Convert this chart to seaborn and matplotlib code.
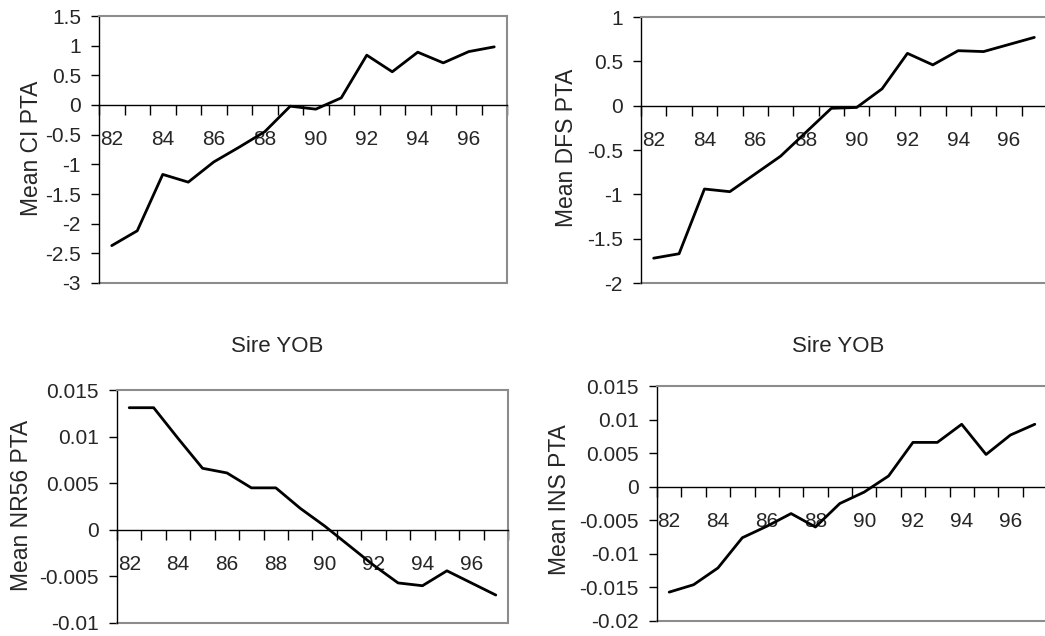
import pandas as pd
import matplotlib.pyplot as plt
from matplotlib.ticker import FixedLocator, NullFormatter
import seaborn as sns

sns.set_style('white')
plt.rcParams['font.family'] = ['Liberation Sans', 'DejaVu Sans']

years = list(range(82, 98))
year_labels = [str(y) for y in range(82, 98, 2)]

ci_pta = [-2.37, -2.12, -1.17, -1.30, -0.96, -0.71, -0.45, -0.02,
          -0.07, 0.12, 0.84, 0.56, 0.89, 0.71, 0.90, 0.98]
dfs_pta = [-1.72, -1.67, -0.94, -0.97, -0.77, -0.57, -0.30, -0.03,
           -0.02, 0.19, 0.59, 0.46, 0.62, 0.61, 0.69, 0.77]
nr56_pta = [0.0131, 0.0131, 0.0098, 0.0066, 0.0061, 0.0045, 0.0045, 0.0023,
            0.0004, -0.0017, -0.0038, -0.0057, -0.0060, -0.0044, -0.0057, -0.0070]
ins_pta = [-0.0157, -0.0146, -0.0121, -0.0076, -0.0059, -0.0040, -0.0060, -0.0025,
           -0.0008, 0.0016, 0.0066, 0.0066, 0.0093, 0.0048, 0.0077, 0.0093]

ci_ticks = [-3, -2.5, -2, -1.5, -1, -0.5, 0, 0.5, 1, 1.5]
dfs_ticks = [-2, -1.5, -1, -0.5, 0, 0.5, 1]
nr56_ticks = [-0.01, -0.005, 0, 0.005, 0.01, 0.015]
ins_ticks = [-0.02, -0.015, -0.01, -0.005, 0, 0.005, 0.01, 0.015]


def fmt(v):
    s = ('%.3f' % v).rstrip('0').rstrip('.')
    return '0' if s in ('-0', '') else s


def panel(fig, rect, values, yticks, ylabel, ylab_xy, xlab_xy=None):
    ax = fig.add_axes(rect)
    df = pd.DataFrame({'year': years, 'pta': values})
    sns.lineplot(data=df, x='year', y='pta', color='black', lw=2, ax=ax)
    ax.set_xlim(81.5, 97.5)
    ax.set_ylim(yticks[0], yticks[-1])
    ax.set_yticks(yticks)
    ax.set_yticklabels([fmt(t) for t in yticks])

    # category boundaries carry tick marks, every second year gets a label
    ax.xaxis.set_major_locator(FixedLocator([y + 0.5 for y in range(81, 98)]))
    ax.xaxis.set_major_formatter(NullFormatter())
    ax.xaxis.set_minor_locator(FixedLocator(list(range(82, 98, 2))))
    ax.set_xticklabels(year_labels, minor=True)
    ax.tick_params(axis='x', which='major', direction='out', length=7,
                   width=1, color='black', bottom=True)
    ax.tick_params(axis='x', which='minor', length=0, pad=18, labelsize=15,
                   bottom=True)
    ax.tick_params(axis='y', direction='out', length=6, width=1,
                   color='black', pad=7, labelsize=15, left=True)

    ax.spines['bottom'].set_position(('data', 0))
    ax.spines['bottom'].set_color('black')
    ax.spines['bottom'].set_linewidth(1)
    ax.spines['left'].set_color('black')
    ax.spines['left'].set_linewidth(1)
    for s in ('top', 'right'):
        ax.spines[s].set_color('#8c8c8c')
        ax.spines[s].set_linewidth(1.5)
    ax.plot([0, 1], [0, 0], transform=ax.transAxes, color='#8c8c8c',
            lw=1.5, clip_on=False)

    ax.set_ylabel(ylabel, fontsize=16.5)
    ax.yaxis.label.set_va('center')
    ax.yaxis.set_label_coords(*ylab_xy)
    if xlab_xy is not None:
        ax.set_xlabel('Sire YOB', fontsize=16)
        ax.xaxis.label.set_va('center')
        ax.xaxis.set_label_coords(*xlab_xy)
    else:
        ax.set_xlabel('')
    return ax


fig = plt.figure(figsize=(10.45, 6.36), dpi=100)
W, H = 1045, 636


def rect(l, r, t, b):
    return [l / W, (H - b) / H, (r - l) / W, (b - t) / H]


def coords(r, x, y):
    l, bt, w, h = r
    return ((x / W - l) / w, ((H - y) / H - bt) / h)


r1 = rect(99, 507, 16, 283)
r2 = rect(641, 1047, 17, 283)
r3 = rect(117, 508, 390, 623)
r4 = rect(657, 1047, 386, 621)

panel(fig, r1, ci_pta, ci_ticks, 'Mean CI PTA', coords(r1, 32, 148), coords(r1, 277, 347))
panel(fig, r2, dfs_pta, dfs_ticks, 'Mean DFS PTA', coords(r2, 566, 148), coords(r2, 838, 347))
panel(fig, r3, nr56_pta, nr56_ticks, 'Mean NR56 PTA', coords(r3, 22, 505))
panel(fig, r4, ins_pta, ins_ticks, 'Mean INS PTA', coords(r4, 560, 500))

fig.savefig('out.png', dpi=100)
